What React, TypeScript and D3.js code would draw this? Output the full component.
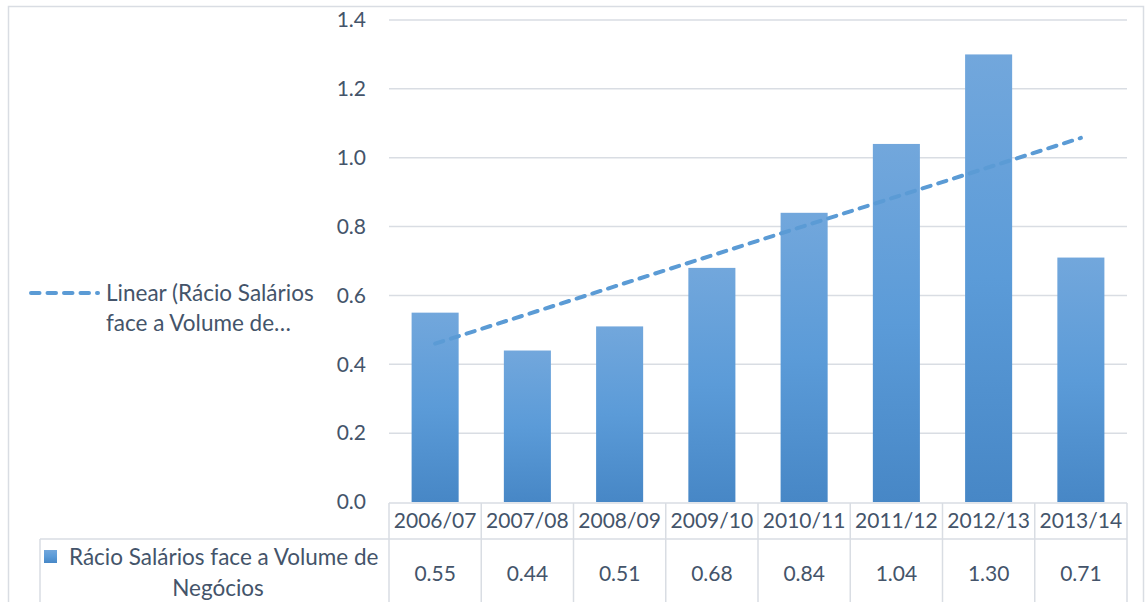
import React, {useEffect, useRef} from "react";
import * as d3 from 'd3';

const WIDTH = 1146;
const HEIGHT = 602;
const TEXT_COLOR = "#44546a";
const LINE_COLOR = "#d9dde3";
const FONT = "Lato, 'Open Sans', sans-serif";
const WORD_SIZE = '22.5px';
const NUM_SIZE = '21px';

const categories = ["2006/07", "2007/08", "2008/09", "2009/10", "2010/11", "2011/12", "2012/13", "2013/14"];
const values = [0.55, 0.44, 0.51, 0.68, 0.84, 1.04, 1.30, 0.71];
const valueLabels = ["0.55", "0.44", "0.51", "0.68", "0.84", "1.04", "1.30", "0.71"];
const yTicks = [0, 0.2, 0.4, 0.6, 0.8, 1.0, 1.2, 1.4];
const seriesName = ["Rácio Salários face a Volume de", "Negócios"];
const trendName = ["Linear (Rácio Salários", "face a Volume de…"];

// plot box
const PLOT_LEFT = 389;
const PLOT_RIGHT = 1127;
const PLOT_TOP = 20;
const PLOT_BOTTOM = 502;
const TABLE_LEFT = 40;
const HEADER_BOTTOM = 539;

const App: React.FC = () => {
    const d3Container = useRef(null);

    useEffect(() => {
        const svg = d3.select(d3Container.current);
        svg.selectAll('*').remove();

        const xScale = d3.scaleBand()
            .domain(categories)
            .range([PLOT_LEFT, PLOT_RIGHT])
            .paddingInner(0.49)
            .paddingOuter(0.245);
        const colScale = d3.scaleBand()
            .domain(categories)
            .range([PLOT_LEFT, PLOT_RIGHT]);
        const yScale = d3.scaleLinear()
            .domain([0, 1.4])
            .range([PLOT_BOTTOM, PLOT_TOP]);

        const defs = svg.append('defs');
        const grad = defs.append('linearGradient')
            .attr('id', 'barGrad')
            .attr('x1', 0).attr('y1', 0).attr('x2', 0).attr('y2', 1);
        grad.append('stop').attr('offset', '0%').attr('stop-color', '#72a7dc');
        grad.append('stop').attr('offset', '50%').attr('stop-color', '#5b9bd8');
        grad.append('stop').attr('offset', '100%').attr('stop-color', '#4787c6');

        // outer chart border
        svg.append('rect')
            .attr('x', 8.5).attr('y', 6.5)
            .attr('width', 1143 - 8).attr('height', HEIGHT)
            .attr('fill', 'white')
            .attr('stroke', LINE_COLOR)
            .attr('stroke-width', 1.5);

        // gridlines
        svg.append('g')
            .selectAll('line')
            .data(yTicks.filter(d => d > 0))
            .enter()
            .append('line')
            .attr('x1', PLOT_LEFT).attr('x2', PLOT_RIGHT)
            .attr('y1', d => yScale(d)).attr('y2', d => yScale(d))
            .attr('stroke', LINE_COLOR)
            .attr('stroke-width', 1.5);

        // y tick labels
        svg.append('g')
            .selectAll('text')
            .data(yTicks)
            .enter()
            .append('text')
            .attr('x', 366)
            .attr('y', d => yScale(d))
            .attr('dy', '0.35em')
            .attr('text-anchor', 'end')
            .attr('fill', TEXT_COLOR)
            .style('font-family', FONT)
            .style('font-size', NUM_SIZE)
            .text(d => d.toFixed(1));

        // bars
        svg.append('g')
            .selectAll('rect')
            .data(values)
            .enter()
            .append('rect')
            .attr('x', (d, i) => xScale(categories[i]) as number)
            .attr('y', d => yScale(d))
            .attr('width', xScale.bandwidth())
            .attr('height', d => PLOT_BOTTOM - yScale(d))
            .attr('fill', 'url(#barGrad)');

        // linear trendline (least squares on the series)
        const xs = values.map((d, i) => i + 1);
        const mx = d3.mean(xs) as number;
        const my = d3.mean(values) as number;
        const slope = (d3.sum(xs, (x, i) => (x - mx) * (values[i] - my))) /
            (d3.sum(xs, x => (x - mx) * (x - mx)));
        const icpt = my - slope * mx;
        const trend = [0, categories.length - 1].map(i => ({
            x: (colScale(categories[i]) as number) + colScale.bandwidth() / 2,
            y: yScale(icpt + slope * (i + 1))
        }));
        svg.append('path')
            .datum(trend)
            .attr('d', d3.line<{x: number, y: number}>().x(d => d.x).y(d => d.y))
            .attr('fill', 'none')
            .attr('stroke', '#5b9bd5')
            .attr('stroke-width', 4)
            .attr('stroke-linecap', 'round')
            .attr('stroke-dasharray', '8.5 8');

        // legend for trendline
        svg.append('line')
            .attr('x1', 31).attr('x2', 98)
            .attr('y1', 293).attr('y2', 293)
            .attr('stroke', '#5b9bd5')
            .attr('stroke-width', 4)
            .attr('stroke-linecap', 'round')
            .attr('stroke-dasharray', '8.5 8');
        svg.append('g')
            .selectAll('text')
            .data(trendName)
            .enter()
            .append('text')
            .attr('x', 106)
            .attr('y', (d, i) => 293 + i * 30)
            .attr('dy', '0.35em')
            .attr('fill', TEXT_COLOR)
            .style('font-family', FONT)
            .style('font-size', WORD_SIZE)
            .text(d => d);

        // data table
        const table = svg.append('g');
        const tableLine = (x1: number, y1: number, x2: number, y2: number) => table.append('line')
            .attr('x1', x1).attr('y1', y1).attr('x2', x2).attr('y2', y2)
            .attr('stroke', LINE_COLOR)
            .attr('stroke-width', 1.5);
        tableLine(PLOT_LEFT, PLOT_BOTTOM + 1, PLOT_RIGHT, PLOT_BOTTOM + 1);
        tableLine(TABLE_LEFT, HEADER_BOTTOM, PLOT_RIGHT, HEADER_BOTTOM);
        tableLine(TABLE_LEFT, HEADER_BOTTOM, TABLE_LEFT, HEIGHT);
        categories.concat(["end"]).forEach((c, i) => {
            const x = PLOT_LEFT + i * colScale.bandwidth();
            tableLine(x, PLOT_BOTTOM + 1, x, HEIGHT);
        });

        table.selectAll('text.hdr')
            .data(categories)
            .enter()
            .append('text')
            .attr('class', 'hdr')
            .attr('x', d => (colScale(d) as number) + colScale.bandwidth() / 2)
            .attr('y', 521)
            .attr('dy', '0.35em')
            .attr('text-anchor', 'middle')
            .attr('fill', TEXT_COLOR)
            .style('font-family', FONT)
            .style('font-size', NUM_SIZE)
            .text(d => d);

        table.selectAll('text.val')
            .data(valueLabels)
            .enter()
            .append('text')
            .attr('class', 'val')
            .attr('x', (d, i) => (colScale(categories[i]) as number) + colScale.bandwidth() / 2)
            .attr('y', 574)
            .attr('dy', '0.35em')
            .attr('text-anchor', 'middle')
            .attr('fill', TEXT_COLOR)
            .style('font-family', FONT)
            .style('font-size', NUM_SIZE)
            .text(d => d);

        // series legend in table
        table.append('rect')
            .attr('x', 44).attr('y', 550)
            .attr('width', 13).attr('height', 13)
            .attr('fill', 'url(#barGrad)');
        table.append('text')
            .attr('x', 69)
            .attr('y', 557)
            .attr('dy', '0.35em')
            .attr('fill', TEXT_COLOR)
            .style('font-family', FONT)
            .style('font-size', WORD_SIZE)
            .text(seriesName[0]);
        table.append('text')
            .attr('x', 218)
            .attr('y', 588)
            .attr('dy', '0.35em')
            .attr('text-anchor', 'middle')
            .attr('fill', TEXT_COLOR)
            .style('font-family', FONT)
            .style('font-size', WORD_SIZE)
            .text(seriesName[1]);
    }, []);

    return (
        <svg ref={d3Container} width={WIDTH} height={HEIGHT}
             style={{position: 'absolute', left: 0, top: 0, display: 'block'}}/>
    )
}

export default App;
